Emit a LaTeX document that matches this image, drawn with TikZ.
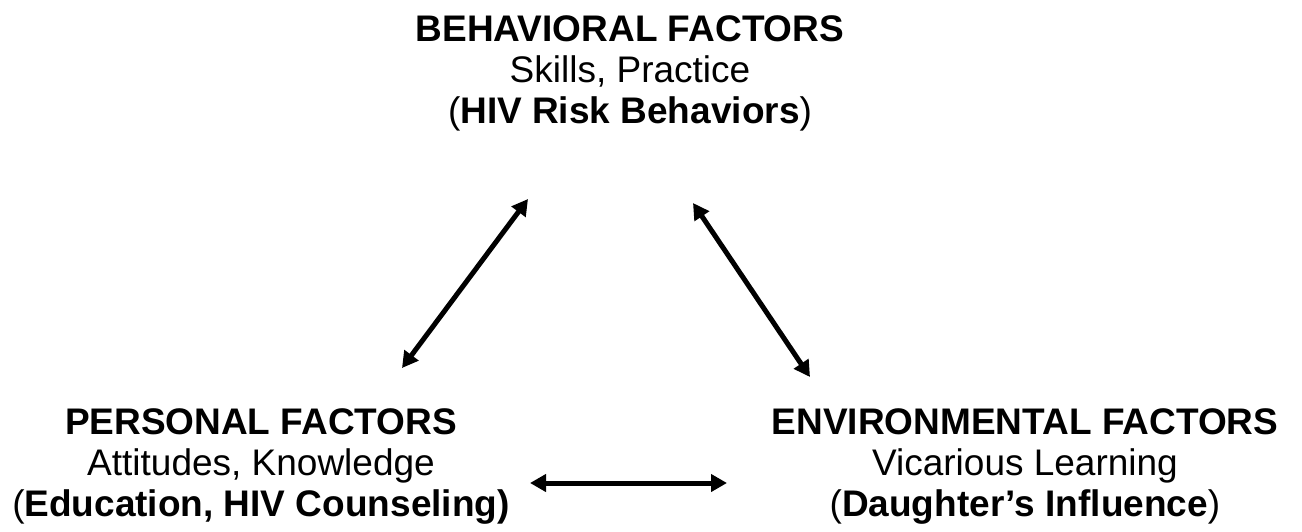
\documentclass[tikz,border=0pt]{standalone}
\usepackage{fontspec}
\setmainfont{Liberation Sans}
\usetikzlibrary{arrows.meta,positioning}

\begin{document}
\begin{tikzpicture}[x=0.5pt, y=-0.5pt,
    factor/.style={align=center, anchor=north, inner sep=0pt, font=\fontsize{18.5pt}{20.5pt}\selectfont},
    link/.style={{Triangle[length=8pt,width=8.5pt]}-{Triangle[length=8pt,width=8.5pt]}, line width=2.5pt}]
  \useasboundingbox (0,0) rectangle (1302,531);

  \node[factor] (behav) at (630,15) {\textbf{BEHAVIORAL FACTORS}\\Skills, Practice\\(\textbf{HIV Risk Behaviors})};
  \node[factor] (pers) at (261,408) {\textbf{PERSONAL FACTORS}\\Attitudes, Knowledge\\(\textbf{Education, HIV Counseling)}};
  \node[factor] (env) at (1025,408) {\textbf{ENVIRONMENTAL FACTORS}\\Vicarious Learning\\(\textbf{Daughter’s Influence})};

  % arrow ends
  \coordinate (bl) at (528,199);
  \coordinate (pt) at (402,368);
  \coordinate (br) at (693,203);
  \coordinate (et) at (810,377);
  \coordinate (pr) at (530,483);
  \coordinate (el) at (727,483);

  \draw[link] (bl) -- (pt);
  \draw[link] (br) -- (et);
  \draw[link] (pr) -- (el);
\end{tikzpicture}
\end{document}
